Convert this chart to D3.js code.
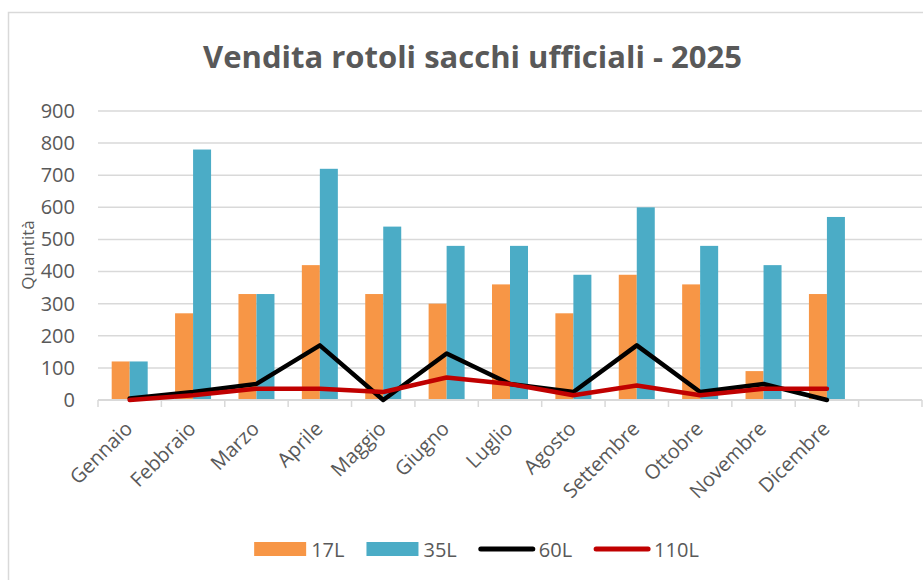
<!DOCTYPE html>
<html>
<head>
<meta charset="utf-8">
<script src="https://cdn.jsdelivr.net/npm/d3@7"></script>
<style>
  body { margin: 0; background: #fff; }
  svg text { font-family: "Open Sans", sans-serif; fill: #595959; }
</style>
</head>
<body>
<div id="chart"></div>
<script>
// Dati
var months = ["Gennaio", "Febbraio", "Marzo", "Aprile", "Maggio", "Giugno",
  "Luglio", "Agosto", "Settembre", "Ottobre", "Novembre", "Dicembre"];
var s17 = [120, 270, 330, 420, 330, 300, 360, 270, 390, 360, 90, 330];
var s35 = [120, 780, 330, 720, 540, 480, 480, 390, 600, 480, 420, 570];
var s60 = [5, 25, 50, 170, 0, 145, 50, 25, 170, 25, 50, 0];
var s110 = [0, 15, 35, 35, 25, 70, 50, 15, 45, 15, 35, 35];
var yTicks = [0, 100, 200, 300, 400, 500, 600, 700, 800, 900];

var width = 923;
var height = 580;

var plotLeft = 98;
var plotRight = 922;
var plotTop = 111;
var plotBottom = 400;

var svg = d3.select("#chart")
  .append("svg")
  .attr("width", width)
  .attr("height", height);

// cornice
svg.append("rect")
  .attr("x", 8.5)
  .attr("y", 12.5)
  .attr("width", 1000)
  .attr("height", 1000)
  .attr("fill", "none")
  .attr("stroke", "#d9d9d9")
  .attr("stroke-width", 1.5);

// Title
var title = svg.append("text")
  .attr("x", 472.5)
  .attr("y", 68)
  .attr("text-anchor", "middle")
  .style("font-weight", "bold")
  .style("font-size", "30px")
  .text("Vendita rotoli sacchi ufficiali - 2025");
var tw = title.node().getComputedTextLength();
title.style("font-size", (30 * 539 / tw) + "px");

// scales (13 slots, last one empty like the original)
var slots = months.concat([""]);
var xScale = d3.scaleBand()
  .domain(d3.range(slots.length))
  .range([plotLeft, plotRight]);

var yScale = d3.scaleLinear()
  .domain([0, 900])
  .range([plotBottom, plotTop]);

// grid
svg.append("g")
  .selectAll("line")
  .data(yTicks.slice(1))
  .enter()
  .append("line")
  .attr("x1", plotLeft)
  .attr("x2", plotRight)
  .attr("y1", function(d) { return yScale(d); })
  .attr("y2", function(d) { return yScale(d); })
  .attr("stroke", "#d9d9d9")
  .attr("stroke-width", 1.5);

// Y axis labels
var YAxis = d3.axisLeft(yScale).tickValues(yTicks).tickSize(0).tickPadding(23);
var yG = svg.append("g")
  .attr("transform", "translate(" + plotLeft + ",0)")
  .call(YAxis);
yG.select(".domain").remove();
yG.selectAll("text")
  .attr("fill", "#595959")
  .style("font-family", "'Open Sans', sans-serif")
  .style("font-size", "20px");

svg.append("text")
  .attr("transform", "translate(34,255)rotate(-90)")
  .attr("text-anchor", "middle")
  .style("font-size", "17px")
  .text("Quantità");

// bars
var bw = 18;
var barsG = svg.append("g");
barsG.selectAll("rect.b17")
  .data(s17)
  .enter()
  .append("rect")
  .attr("class", "b17")
  .attr("x", function(d, i) { return xScale(i) + xScale.bandwidth() / 2 - bw; })
  .attr("y", function(d) { return yScale(d); })
  .attr("width", bw)
  .attr("height", function(d) { return plotBottom - yScale(d); })
  .attr("fill", "#f79646");
barsG.selectAll("rect.b35")
  .data(s35)
  .enter()
  .append("rect")
  .attr("class", "b35")
  .attr("x", function(d, i) { return xScale(i) + xScale.bandwidth() / 2; })
  .attr("y", function(d) { return yScale(d); })
  .attr("width", bw)
  .attr("height", function(d) { return plotBottom - yScale(d); })
  .attr("fill", "#4bacc6");

// X axis
svg.append("line")
  .attr("x1", plotLeft)
  .attr("x2", plotRight)
  .attr("y1", plotBottom)
  .attr("y2", plotBottom)
  .attr("stroke", "#d9d9d9")
  .attr("stroke-width", 2);

var tickPos = d3.range(slots.length).map(function(i) { return xScale(i); }).concat([plotRight]);
svg.append("g")
  .selectAll("line")
  .data(tickPos)
  .enter()
  .append("line")
  .attr("x1", function(d) { return d; })
  .attr("x2", function(d) { return d; })
  .attr("y1", plotBottom)
  .attr("y2", plotBottom + 7)
  .attr("stroke", "#d9d9d9")
  .attr("stroke-width", 1.5);

svg.append("g")
  .selectAll("text")
  .data(months)
  .enter()
  .append("text")
  .attr("transform", function(d, i) {
    return "translate(" + (xScale(i) + xScale.bandwidth() / 2 + 4) + "," + (plotBottom + 30) + ")rotate(-45)";
  })
  .attr("text-anchor", "end")
  .style("font-size", "20px")
  .text(function(d) { return d; });

// lines
var line = d3.line()
  .x(function(d, i) { return xScale(i) + xScale.bandwidth() / 2; })
  .y(function(d) { return yScale(d); });

svg.append("path")
  .datum(s60)
  .attr("d", line)
  .attr("fill", "none")
  .attr("stroke", "#000")
  .attr("stroke-width", 4.5)
  .attr("stroke-linejoin", "round")
  .attr("stroke-linecap", "round");

svg.append("path")
  .datum(s110)
  .attr("d", line)
  .attr("fill", "none")
  .attr("stroke", "#c00000")
  .attr("stroke-width", 4.5)
  .attr("stroke-linejoin", "round")
  .attr("stroke-linecap", "round");

// Legend
var legendItems = [
  { name: "17L", type: "bar", color: "#f79646" },
  { name: "35L", type: "bar", color: "#4bacc6" },
  { name: "60L", type: "line", color: "#000" },
  { name: "110L", type: "line", color: "#c00000" }
];
var legend = svg.append("g");
var lx = 0;
legendItems.forEach(function(item) {
  var g = legend.append("g").attr("transform", "translate(" + lx + ",0)");
  if (item.type === "bar") {
    g.append("rect")
      .attr("x", 0)
      .attr("y", -7)
      .attr("width", 52)
      .attr("height", 14)
      .attr("fill", item.color);
  }
  else {
    g.append("line")
      .attr("x1", 2)
      .attr("x2", 54)
      .attr("y1", 0)
      .attr("y2", 0)
      .attr("stroke", item.color)
      .attr("stroke-width", 5)
      .attr("stroke-linecap", "round");
  }
  var t = g.append("text")
    .attr("x", item.type === "bar" ? 57 : 60)
    .attr("y", 7.5)
    .style("font-size", "20px")
    .text(item.name);
  lx += (item.type === "bar" ? 57 : 60) + t.node().getComputedTextLength() + 22;
});
var lw = lx - 22;
legend.attr("transform", "translate(" + (476.5 - lw / 2) + ",549)");
</script>
</body>
</html>
